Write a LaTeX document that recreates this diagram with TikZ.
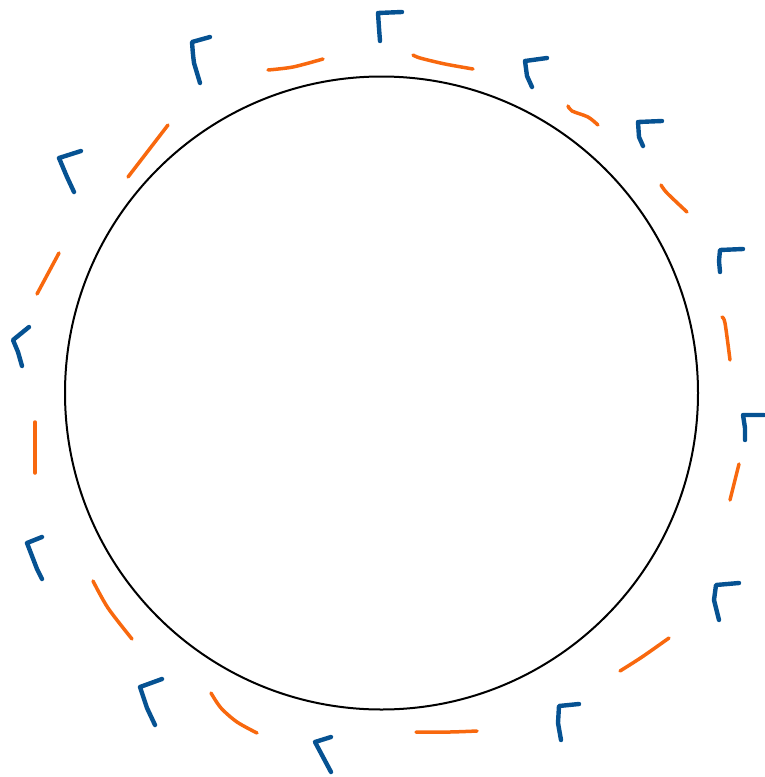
\documentclass[tikz,border=0pt]{standalone}
\begin{document}
\begin{tikzpicture}[x=1pt,y=-1pt,
  mk/.style={line cap=round,line join=round},
  bluemark/.style={mk,draw=markblue,line width=4.4pt},
  orangemark/.style={mk,draw=markorange,line width=3.5pt},
  ring/.style={draw=black,line width=2pt}]
\definecolor{markblue}{RGB}{6,82,146}
\definecolor{markorange}{RGB}{248,104,14}
\useasboundingbox (0,0) rectangle (764,777);
% main circle
\draw[ring] (381.5,393) circle[radius=316.5];
% blue brackets
\draw[bluemark] plot[smooth] coordinates {(402,12) (378,13)} -- (379,28) -- (380,41);
\draw[bluemark] (210,37) -- (192,42) .. controls (193,55) .. (194,63) -- (200,83);
\draw[bluemark] (81,151) -- (59,158) -- (67,177) -- (74,192);
\draw[bluemark] (29,327) -- (13,340) -- (18,352) -- (22,366);
\draw[bluemark] (42,537) -- (27,543) -- (37,569) -- (42,579);
\draw[bluemark] (162,679) -- (140,687) -- (147,708) -- (155,725);
\draw[bluemark] (331,737) -- (315,742) -- (323,757) -- (331,772);
\draw[bluemark] (579,704) -- (559,706) -- (558,723) -- (561,740);
\draw[bluemark] (739,583) -- (716,585) -- (714,600) -- (719,620);
\draw[bluemark] (764,415) -- (743,415) -- (745,428) -- (745,440);
\draw[bluemark] (743,249) -- (720,250) -- (719,261) -- (720,272);
\draw[bluemark] (662,121) -- (638,122) -- (639,137) -- (643,146);
\draw[bluemark] (547,58) -- (525,61) -- (527,76) -- (532,87);
% orange dashes
\draw[orangemark] plot[smooth] coordinates {(413,55) (420,58) (445,64) (473,69)};
\draw[orangemark] plot[smooth] coordinates {(268,70) (293,67) (323,59)};
\draw[orangemark] (168,125) -- (128,177);
\draw[orangemark] (59,253) -- (37,294);
\draw[orangemark] (35,422) -- (35,473);
\draw[orangemark] plot[smooth] coordinates {(93,581) (108,608) (132,639)};
\draw[orangemark] plot[smooth] coordinates {(211,693) (221,708) (237,722) (257,733)};
\draw[orangemark] plot[smooth] coordinates {(416,732) (450,732) (477,731)};
\draw[orangemark] plot[smooth] coordinates {(620,671) (642,657) (669,638)};
\draw[orangemark] (739,464) -- (730,500);
\draw[orangemark] plot[smooth] coordinates {(722,317) (725,323) (730,360)};
\draw[orangemark] plot[smooth] coordinates {(661,185) (667,193) (687,212)};
\draw[orangemark] plot[smooth] coordinates {(568,106) (572,111) (588,117) (598,125)};
\end{tikzpicture}
\end{document}
